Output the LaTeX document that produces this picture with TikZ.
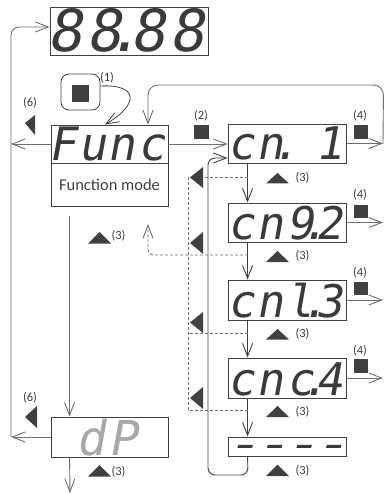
\documentclass[tikz,border=0pt]{standalone}
\usepackage{fontspec}
\usepackage{graphicx}
\setmainfont{Carlito}
\newfontfamily\segfont[FakeSlant=0.18]{DejaVu Sans Mono}
\newfontfamily\segbold[FakeSlant=0.18,FakeBold=4]{DejaVu Sans Mono}
\usetikzlibrary{arrows.meta,calc}
\definecolor{ink}{HTML}{404040}
\definecolor{wire}{HTML}{6E6E6E}
\definecolor{segc}{HTML}{3A3A3A}
\definecolor{segl}{HTML}{A8A8A8}
\definecolor{lbl}{HTML}{3C3C3C}
\newcommand\sgs[2]{\makebox[#1][c]{#2}}
\newcommand\sdot{\makebox[0pt][c]{.}}
\newcommand\sdash{\makebox[29.5pt][c]{\scalebox{1.9}[1]{-}}}
\tikzset{
  disp/.style={draw=ink, line width=0.9pt, inner sep=0pt, minimum width=118pt},
  conn/.style={draw=wire, line width=0.9pt},
  arr/.style={-{Straight Barb[length=13pt,width=10pt]}},
  dashwire/.style={conn, dash pattern=on 3pt off 2pt},
  segtxt/.style={anchor=base, inner sep=0pt, text depth=0pt, text=segc, font=\segfont\fontsize{45}{45}\selectfont},
  lab/.style={text=lbl, font=\fontsize{12.5}{13}\selectfont, inner sep=0pt},
  mk/.style={fill=ink, draw=none},
}
\begin{document}
\begin{tikzpicture}[x=1pt,y=-1pt]
\useasboundingbox (0,0) rectangle (384,494);
\fill[white] (0,0) rectangle (384,494);

% top display
\node[disp, minimum width=158pt, minimum height=48pt] (top) at (129,31) {};
\node[segtxt, font=\segfont\fontsize{58}{58}\selectfont] (topt) at (126,52)
  {\sgs{39pt}{8}\sgs{39pt}{8}\sdot\hspace{5pt}\sgs{39pt}{8}\sgs{39pt}{8}};

% button
\node[draw=ink, line width=0.8pt, rounded corners=8pt, minimum width=39pt, minimum height=36pt, inner sep=0pt] (btn) at (80.5,92) {};
\node[mk, minimum width=17pt, minimum height=17pt, inner sep=0pt] (btnsq) at (80.5,93.5) {};
\node[lab] (l1) at (107,78) {(1)};

% function box
\node[disp, minimum width=117pt, minimum height=38pt] (func) at (109.5,144) {};
\node[disp, minimum width=117pt, minimum height=43pt] (fmode) at (109.5,184.5) {};
\node[segtxt, font=\segfont\fontsize{46}{46}\selectfont] (funct) at (107,161)
  {\sgs{29.5pt}{F}\sgs{29.5pt}{u}\sgs{29.5pt}{n}\sgs{29.5pt}{c}};
\node[text=ink, font=\fontsize{16.5}{18}\selectfont, inner sep=0pt] (fmodet) at (109.5,185) {Function mode};

% dP box
\node[disp, minimum width=117pt, minimum height=40pt] (dp) at (109.5,437) {};
\node[segtxt, text=segl, font=\segfont\fontsize{48}{48}\selectfont] (dpt) at (107,455)
  {\sgs{32pt}{d}\sgs{32pt}{P}};

% cn column
\node[disp, minimum height=39pt] (cn1) at (287,143.5) {};
\node[disp, minimum height=39pt] (cn2) at (287,222.5) {};
\node[disp, minimum height=40pt] (cn3) at (287,300) {};
\node[disp, minimum height=40pt] (cn4) at (287,378) {};
\node[disp, minimum height=19pt] (cn5) at (287,446.5) {};

\node[segtxt] (cn1t) at (285,160) {\sgs{29.5pt}{c}\sgs{29.5pt}{n}\sdot\sgs{29.5pt}{}\sgs{29.5pt}{1}};
\node[segtxt] (cn2t) at (285,239) {\sgs{29.5pt}{c}\sgs{29.5pt}{n}\sgs{29.5pt}{9}\sdot\sgs{29.5pt}{2}};
\node[segtxt] (cn3t) at (285,317) {\sgs{29.5pt}{c}\sgs{29.5pt}{n}\sgs{29.5pt}{l}\sdot\sgs{29.5pt}{3}};
\node[segtxt] (cn4t) at (285,395) {\sgs{29.5pt}{c}\sgs{29.5pt}{n}\sgs{29.5pt}{c}\sdot\sgs{29.5pt}{4}};
\node[segtxt, font=\segbold\fontsize{26}{26}\selectfont] (cn5t) at (287,453.5) {\sdash\sdash\sdash\sdash};

% free-end coordinates
\coordinate (lx) at (11,0);
\coordinate (rx) at (383,0);
\coordinate (ltop) at (11,27);
\coordinate (lbot) at (11,437);
\coordinate (dpout) at (70,493);
\coordinate (loopR) at (383.5,85);
\coordinate (loopL) at (148,85);
\coordinate (iloopB) at (248,475);
\coordinate (iloopL) at (208,475);
\coordinate (iloopT) at (208,158);
\coordinate (d1) at (248,177);
\coordinate (d1l) at (188,177);
\coordinate (d2) at (248,255);
\coordinate (d2l) at (148,255);
\coordinate (d2e) at (148,224);
\coordinate (d3) at (248,333);
\coordinate (d3l) at (188,333);
\coordinate (d4) at (248,410);
\coordinate (d4l) at (188,410);

% left loop
\draw[conn, arr] (func.west) -- (func.west -| lx);
\draw[conn, arr] (dp.west) -- (lbot);
\draw[conn, arr, rounded corners=8pt] (lbot) -- (ltop) -- ([yshift=4pt]top.west);

% button curve
\draw[draw=ink, line width=0.8pt, arr] ($(btn.east)+(0,-6)$) .. controls (138,84) and (140,104) .. (105,124.5);

% func -> cn1
\draw[conn, arr] (func.east) -- (func.east -| cn1.west);
% big loop back to func
\draw[conn, rounded corners=10pt, arr] (cn1.east -| rx) -- (loopR) -- (loopL) -- (func.north -| loopL);

% func -> dP and dP down
\draw[conn, arr] ($(fmode.south west)+(19,10)$) -- ($(dp.north west)+(19,0)$);
\draw[conn, arr] ($(dp.south west)+(19,0)$) -- (dpout);

% cn vertical chain
\draw[conn, draw=ink, arr] ($(cn1.south west)+(20,0)$) -- ($(cn2.north west)+(20,0)$);
\draw[conn, draw=ink, arr] ($(cn2.south west)+(20,0)$) -- ($(cn3.north west)+(20,0)$);
\draw[conn, draw=ink, arr] ($(cn3.south west)+(20,0)$) -- ($(cn4.north west)+(20,0)$);
\draw[conn, draw=ink, arr] ($(cn4.south west)+(20,0)$) -- ($(cn5.north west)+(20,0)$);
% inner loop back to cn1
\draw[conn, draw=ink, rounded corners=7pt, arr] ($(cn5.south west)+(20,0)$) -- (iloopB) -- (iloopL) -- (iloopT) -- (iloopT -| cn1.west);

% outputs
\draw[conn, arr] (cn1.east) -- (cn1.east -| rx);
\draw[conn, arr] (cn2.east) -- (cn2.east -| rx);
\draw[conn, arr] (cn3.east) -- (cn3.east -| rx);
\draw[conn, arr] (cn4.east) -- (cn4.east -| rx);

% dashed back paths
\draw[dashwire] (d1) -- (d1l) -- (d4l) -- (d4);
\draw[dashwire] (d3) -- (d3l);
\draw[dashwire, rounded corners=6pt, arr] (d2) -- (d2l) -- (d2e);

% marks: left triangles
\fill[mk] (25,123) -- (35,115) -- (35,135) -- cycle;
\fill[mk] (25,417) -- (37,406) -- (37,428) -- cycle;
\fill[mk] (190,177.5) -- (203,167) -- (203,188) -- cycle;
\fill[mk] (190,243) -- (203,232) -- (203,254) -- cycle;
\fill[mk] (190,322.5) -- (203,312) -- (203,333) -- cycle;
\fill[mk] (190,398) -- (203,387) -- (203,409) -- cycle;
% up triangles
\fill[mk] (266,183.5) -- (277.5,173) -- (289,183.5) -- cycle;
\fill[mk] (266,262) -- (277.5,251) -- (289,262) -- cycle;
\fill[mk] (266,339.5) -- (277.5,329) -- (289,339.5) -- cycle;
\fill[mk] (266,417) -- (277.5,406) -- (289,417) -- cycle;
\fill[mk] (266,476) -- (277.5,464.5) -- (289,476) -- cycle;
\fill[mk] (88,243.5) -- (99.5,232) -- (111,243.5) -- cycle;
\fill[mk] (88,476.5) -- (99.5,465) -- (111,476.5) -- cycle;
% squares
\fill[mk] (194,125) rectangle (209,139);
\fill[mk] (354,125) rectangle (368,139);
\fill[mk] (354,205) rectangle (368,218);
\fill[mk] (354,282) rectangle (368,295);
\fill[mk] (354,359) rectangle (368,373);

% labels
\node[lab] (l2) at (201,116) {(2)};
\node[lab] (l4a) at (360,116) {(4)};
\node[lab] (l4b) at (360,195) {(4)};
\node[lab] (l4c) at (360,273) {(4)};
\node[lab] (l4d) at (360,351) {(4)};
\node[lab] (l6a) at (30,103) {(6)};
\node[lab] (l6b) at (30,398) {(6)};
\node[lab] (l3a) at (302.5,178) {(3)};
\node[lab] (l3b) at (302.5,256) {(3)};
\node[lab] (l3c) at (302.5,334) {(3)};
\node[lab] (l3d) at (302.5,412) {(3)};
\node[lab] (l3e) at (302.5,471) {(3)};
\node[lab] (l3f) at (118.5,236) {(3)};
\node[lab] (l3g) at (118.5,472) {(3)};
\end{tikzpicture}
\end{document}
